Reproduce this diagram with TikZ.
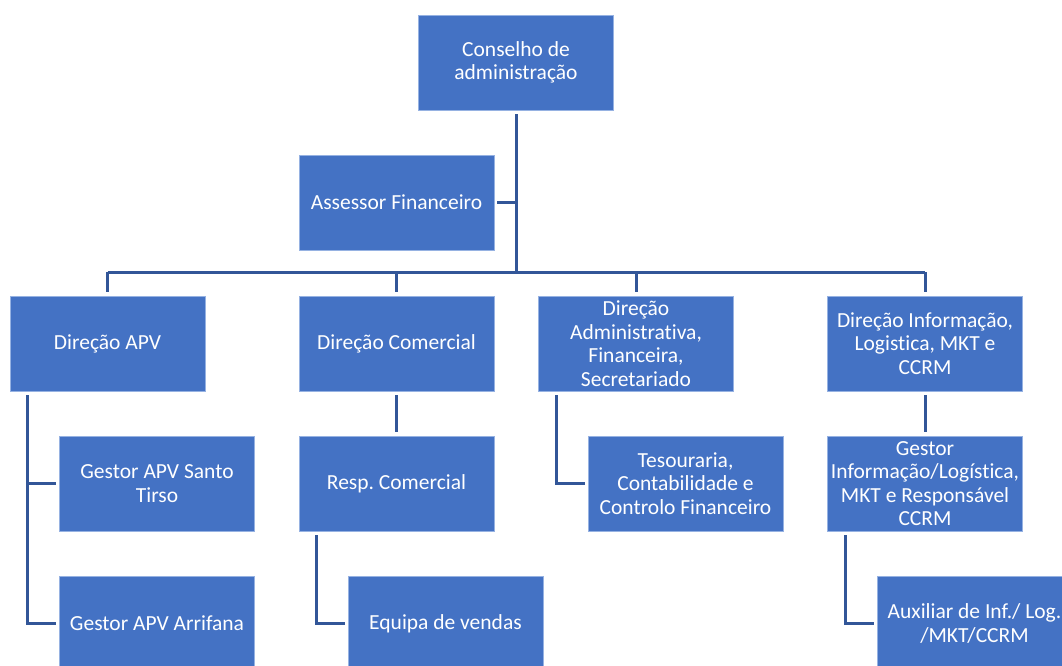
\documentclass[tikz,border=0pt]{standalone}
\usepackage{fontspec}
\setmainfont{Carlito}[Ligatures=NoCommon]
\frenchspacing
\definecolor{boxblue}{RGB}{68,114,196}
\definecolor{boxedge}{RGB}{150,178,226}
\definecolor{connblue}{RGB}{50,86,152}
\begin{document}
\begin{tikzpicture}[x=1pt,y=-1pt,
  box/.style={fill=boxblue, draw=boxedge, line width=0.8pt, minimum width=195pt, minimum height=95pt,
    inner sep=0pt, text=white, align=center, font=\fontsize{21.5}{23.5}\selectfont},
  conn/.style={draw=connblue, line width=3pt}]
\useasboundingbox (0,0) rectangle (1062,666);
\clip (0,0) rectangle (1062,666);
\fill[white] (0,0) rectangle (1062,666);
% boxes
\node[box] (cons) at (516,62.5) {Conselho de\\administração};
\node[box] (ass) at (396.5,202.5) {Assessor Financeiro};
\node[box] (apv) at (107.5,343.5) {Direção APV};
\node[box] (com) at (396.5,343.5) {Direção Comercial};
\node[box] (adm) at (636,343.5) {Direção\\Administrativa,\\Financeira,\\Secretariado};
\node[box] (inf) at (925,343.5) {Direção Informação,\\Logistica, MKT e\\CCRM};
\node[box] (gst) at (157,483.5) {Gestor APV Santo\\Tirso};
\node[box] (gar) at (157,623.5) {Gestor APV Arrifana};
\node[box] (resp) at (396.5,483.5) {Resp. Comercial};
\node[box] (equ) at (445.5,623.5) {Equipa de vendas};
\node[box] (tes) at (685.5,483.5) {Tesouraria,\\Contabilidade e\\Controlo Financeiro};
\node[box] (gin) at (925,483.5) {Gestor\\Informação/Logística,\\MKT e Responsável\\CCRM};
\node[box] (aux) at (974.5,623.5) {Auxiliar de Inf./ Log.\\/MKT/CCRM};
% bus
\coordinate (bus) at (516,272);
\draw[conn, shorten <=4pt] (cons.south) -- (cons.south |- bus);
\draw[conn, shorten <=3pt] (ass.east) -- (ass.east -| cons.south);
\draw[conn] (apv.north |- bus) -- (inf.north |- bus);
\foreach \n in {apv,com,adm,inf}
  \draw[conn, shorten >=4pt] (\n.north |- bus) -- (\n.north);
% second level
\draw[conn, shorten <=4pt, shorten >=4pt] (com.south) -- (resp.north);
\draw[conn, shorten <=4pt, shorten >=4pt] (inf.south) -- (gin.north);
% side branches
\coordinate (apvL) at ([xshift=18pt]apv.south west);
\draw[conn, shorten <=4pt, shorten >=3pt] (apvL) -- (apvL |- gar.west) -- (gar.west);
\draw[conn, shorten >=3pt] (apvL |- gst.west) -- (gst.west);
\coordinate (respL) at ([xshift=18pt]resp.south west);
\draw[conn, shorten <=4pt, shorten >=3pt] (respL) -- (respL |- equ.west) -- (equ.west);
\coordinate (admL) at ([xshift=18pt]adm.south west);
\draw[conn, shorten <=4pt, shorten >=3pt] (admL) -- (admL |- tes.west) -- (tes.west);
\coordinate (ginL) at ([xshift=18pt]gin.south west);
\draw[conn, shorten <=4pt, shorten >=3pt] (ginL) -- (ginL |- aux.west) -- (aux.west);
\end{tikzpicture}
\end{document}
